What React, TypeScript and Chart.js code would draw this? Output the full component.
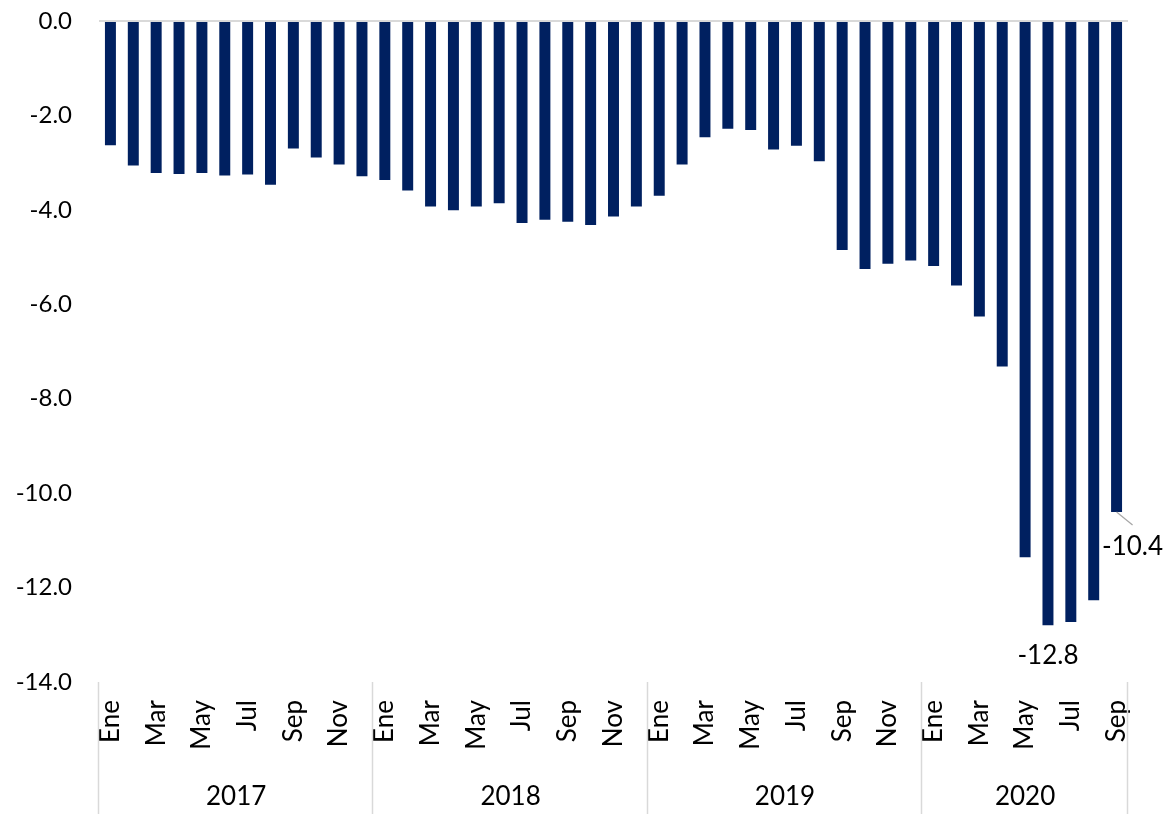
import React, { useEffect, useRef } from "react";
import { Chart, registerables } from "chart.js";

Chart.register(...registerables);

const MONTHS = ["Ene", "Feb", "Mar", "Abr", "May", "Jun", "Jul", "Ago", "Sep", "Oct", "Nov", "Dic"];
const YEARS = ["2017", "2018", "2019", "2020"];
const VALUES_2017 = [-2.63, -3.06, -3.22, -3.24, -3.22, -3.27, -3.25, -3.47, -2.7, -2.89, -3.04, -3.29];
const VALUES_2018 = [-3.37, -3.59, -3.93, -4.01, -3.93, -3.86, -4.28, -4.21, -4.25, -4.32, -4.14, -3.93];
const VALUES_2019 = [-3.7, -3.04, -2.46, -2.28, -2.31, -2.72, -2.64, -2.97, -4.85, -5.25, -5.14, -5.07];
const VALUES_2020 = [-5.19, -5.6, -6.26, -7.32, -11.36, -12.8, -12.73, -12.27, -10.4];
const Y_TICKS = [-14, -12, -10, -8, -6, -4, -2, 0];
const LABELED_POINTS = [
  { index: 41, text: "-12.8", leader: false },
  { index: 44, text: "-10.4", leader: true },
];

const SERIES = [VALUES_2017, VALUES_2018, VALUES_2019, VALUES_2020];
const LABELS: string[] = [];
const DATA: number[] = [];
const GROUP_SIZES: number[] = [];
SERIES.forEach((arr) => {
  GROUP_SIZES.push(arr.length);
  arr.forEach((v, i) => {
    LABELS.push(MONTHS[i]);
    DATA.push(v);
  });
});

const FONT = "Lato, 'Open Sans', sans-serif";

const overlayPlugin = {
  id: "overlay",
  afterDraw(chart: any) {
    const ctx = chart.ctx;
    const xs = chart.scales.x;
    const ys = chart.scales.y;
    const area = chart.chartArea;
    const half = (xs.getPixelForValue(1) - xs.getPixelForValue(0)) / 2;
    ctx.save();
    ctx.strokeStyle = "#d9d9d9";
    ctx.lineWidth = 1.5;
    let start = 0;
    const bounds: number[] = [xs.getPixelForValue(0) - half];
    GROUP_SIZES.forEach((n) => {
      start += n;
      bounds.push(xs.getPixelForValue(start - 1) + half);
    });
    bounds.forEach((bx) => {
      ctx.beginPath();
      ctx.moveTo(Math.round(bx) - 0.5, area.bottom);
      ctx.lineTo(Math.round(bx) - 0.5, chart.height);
      ctx.stroke();
    });
    ctx.fillStyle = "#000";
    ctx.font = `26px ${FONT}`;
    ctx.textAlign = "center";
    ctx.textBaseline = "middle";
    YEARS.forEach((yr, i) => {
      const cx = (bounds[i] + bounds[i + 1]) / 2;
      ctx.fillText(yr, cx, 797);
    });
    LABELED_POINTS.forEach((p) => {
      const bx = xs.getPixelForValue(p.index);
      const by = ys.getPixelForValue(DATA[p.index]);
      if (p.leader) {
        ctx.strokeStyle = "#a6a6a6";
        ctx.lineWidth = 1.2;
        ctx.beginPath();
        ctx.moveTo(bx, by);
        ctx.lineTo(bx + 16, by + 13);
        ctx.stroke();
        ctx.fillText(p.text, bx + 16, by + 35);
      } else {
        ctx.fillText(p.text, bx, by + 30);
      }
    });
    ctx.restore();
  },
};

export default function App() {
  const ref = useRef<HTMLCanvasElement | null>(null);
  useEffect(() => {
    document.body.style.margin = "0";
    if (!ref.current) return;
    const chart = new Chart(ref.current, {
      type: "bar",
      data: {
        labels: LABELS,
        datasets: [
          {
            data: DATA,
            backgroundColor: "#002060",
            borderWidth: 0,
            barPercentage: 0.48,
            categoryPercentage: 1,
          },
        ],
      },
      options: {
        responsive: false,
        animation: false,
        devicePixelRatio: 1,
        layout: { padding: { top: 21, right: 39, left: 0, bottom: 0 } },
        plugins: {
          legend: { display: false },
          tooltip: { enabled: false },
        },
        scales: {
          x: {
            type: "category",
            grid: { display: false, drawTicks: false },
            border: { display: false },
            afterFit(scale: any) {
              scale.height = 132;
              scale.paddingLeft = 0;
              scale.paddingRight = 0;
              scale.paddingTop = 0;
              scale.paddingBottom = 0;
            },
            ticks: {
              autoSkip: false,
              minRotation: 90,
              maxRotation: 90,
              padding: 18,
              color: "#000",
              font: { family: FONT, size: 26 },
              callback: (_v: any, i: number) => (i % 2 === 0 ? LABELS[i] : ""),
            },
          },
          y: {
            min: Y_TICKS[0],
            max: Y_TICKS[Y_TICKS.length - 1],
            afterFit(scale: any) {
              scale.width = 99;
              scale.paddingLeft = 0;
              scale.paddingRight = 0;
              scale.paddingTop = 0;
              scale.paddingBottom = 0;
            },
            afterBuildTicks(scale: any) {
              scale.ticks = Y_TICKS.map((v) => ({ value: v }));
            },
            border: { display: false },
            grid: {
              drawTicks: false,
              lineWidth: 2,
              color: (c: any) => (c.tick && c.tick.value === 0 ? "#d9d9d9" : "rgba(0,0,0,0)"),
            },
            ticks: {
              padding: 27,
              color: "#000",
              font: { family: FONT, size: 24 },
              callback: (v: any) => Number(v).toFixed(1),
            },
          },
        },
      },
      plugins: [overlayPlugin],
    });
    return () => chart.destroy();
  }, []);
  return (
    <div style={{ width: 1167, height: 814 }}>
      <canvas ref={ref} width={1167} height={814} style={{ display: "block" }} />
    </div>
  );
}
